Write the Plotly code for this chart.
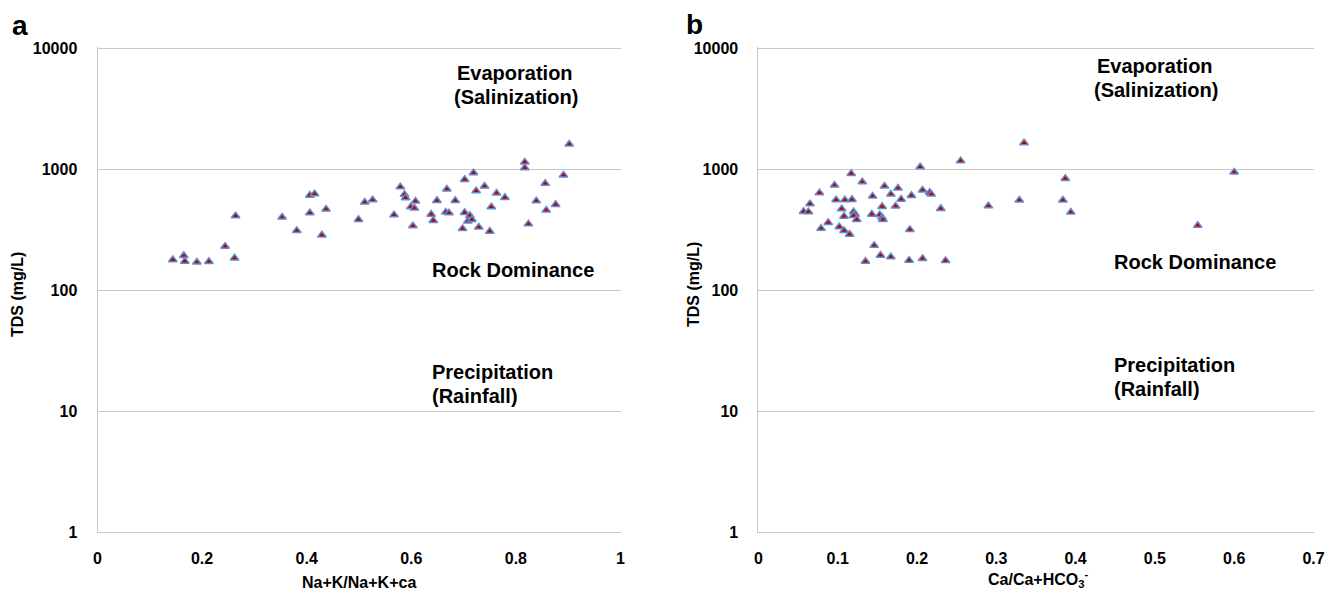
import plotly.graph_objects as go

# Panel a data: Na+K/(Na+K+Ca) vs TDS
a_ratio = [0.144, 0.165, 0.167, 0.190, 0.213, 0.244, 0.262, 0.264, 0.353, 0.381,
           0.406, 0.415, 0.406, 0.437, 0.429, 0.499, 0.511, 0.526, 0.567, 0.579,
           0.587, 0.589, 0.599, 0.606, 0.608, 0.603, 0.638, 0.642, 0.649, 0.668,
           0.666, 0.672, 0.684, 0.702, 0.719, 0.724, 0.740, 0.702, 0.712, 0.708,
           0.716, 0.698, 0.729, 0.750, 0.753, 0.763, 0.779, 0.817, 0.817, 0.824,
           0.839, 0.856, 0.858, 0.876, 0.891, 0.902]
a_tds = [179, 194, 174, 171, 173, 231, 185, 413, 403, 312,
         612, 628, 437, 469, 287, 385, 536, 560, 421, 717,
         621, 582, 490, 478, 546, 341, 426, 378, 553, 687,
         443, 437, 553, 826, 937, 665, 727, 440, 416, 373,
         385, 324, 333, 308, 490, 636, 586, 1150, 1031, 354,
         549, 766, 460, 513, 897, 1620]

# Panel b data: Ca/(Ca+HCO3) vs TDS
b_ratio = [0.057, 0.063, 0.065, 0.077, 0.079, 0.088, 0.096, 0.098, 0.102, 0.105,
           0.108, 0.108, 0.109, 0.115, 0.117, 0.118, 0.120, 0.122, 0.120, 0.124,
           0.131, 0.144, 0.143, 0.146, 0.135, 0.154, 0.153, 0.156, 0.156, 0.157,
           0.159, 0.167, 0.167, 0.176, 0.180, 0.173, 0.190, 0.191, 0.193, 0.204,
           0.207, 0.207, 0.216, 0.218, 0.230, 0.236, 0.255, 0.290, 0.329, 0.335,
           0.384, 0.387, 0.394, 0.554, 0.600]
b_tds = [449, 446, 519, 640, 325, 364, 741, 560, 335, 472,
         410, 312, 560, 291, 926, 564, 446, 426, 416, 385,
         789, 601, 426, 235, 174, 195, 421, 494, 400, 385,
         727, 624, 189, 700, 567, 497, 177, 318, 609, 1050,
         674, 183, 645, 624, 475, 176, 1178, 499, 557, 1661,
         557, 842, 443, 344, 950]

y_tickvals = [1, 10, 100, 1000, 10000]
y_ticktext = ["1", "10", "100", "1000", "10000"]
a_xticks = [0, 0.2, 0.4, 0.6, 0.8, 1]
a_xtext = ["0", "0.2", "0.4", "0.6", "0.8", "1"]
b_xticks = [0, 0.1, 0.2, 0.3, 0.4, 0.5, 0.6, 0.7]
b_xtext = ["0", "0.1", "0.2", "0.3", "0.4", "0.5", "0.6", "0.7"]

# page body has an 8px margin, so the figure is drawn 8px in from the top-left
OFF = 8
W, H = 1339 - OFF, 593 - OFF
FONT = "Liberation Sans, Arial, sans-serif"
GRID = "#c8c8c8"

def px(x):
    return (x - OFF) / W

def py(y):
    return 1 - (y - OFF) / H

marker = dict(symbol="triangle-up", size=7.5, color="#c00000",
              line=dict(color="#5b8fd0", width=1.5))

fig = go.Figure()
fig.add_trace(go.Scatter(x=a_ratio, y=a_tds, mode="markers", marker=marker,
                         xaxis="x", yaxis="y", showlegend=False))
fig.add_trace(go.Scatter(x=b_ratio, y=b_tds, mode="markers", marker=marker,
                         xaxis="x2", yaxis="y2", showlegend=False))

tickfont = dict(family=FONT, size=16, color="#000000", weight="bold")

common_x = dict(showgrid=False, zeroline=False, showline=True, linecolor=GRID,
                linewidth=1, ticks="", tickfont=tickfont, ticklabelstandoff=12,
                automargin=False)
common_y = dict(type="log", range=[0, 4.012], tickvals=y_tickvals, ticktext=y_ticktext,
                showgrid=True, gridcolor=GRID, gridwidth=1, zeroline=False,
                showline=True, linecolor=GRID, linewidth=1, ticks="",
                tickfont=tickfont, ticklabelstandoff=16, automargin=False)

ybot, ytop = py(532), py(47.2)
fig.update_layout(
    template="none",
    width=W, height=H,
    margin=dict(l=0, r=0, t=0, b=0, pad=0),
    paper_bgcolor="white", plot_bgcolor="white",
    showlegend=False,
    xaxis=dict(domain=[px(97.5), px(620.5)], range=[0, 1], tickvals=a_xticks,
               ticktext=a_xtext, anchor="y", **common_x),
    yaxis=dict(domain=[ybot, ytop], anchor="x", **common_y),
    xaxis2=dict(domain=[px(758.4), px(1313.5)], range=[0, 0.7], tickvals=b_xticks,
                ticktext=b_xtext, anchor="y2", **common_x),
    yaxis2=dict(domain=[ybot, ytop], anchor="x2", **common_y),
)

def ann(text, x, y, size=20, xanchor="left", angle=0):
    fig.add_annotation(text=text, x=px(x), y=py(y), xref="paper", yref="paper",
                       xanchor=xanchor, yanchor="middle", showarrow=False,
                       textangle=angle,
                       font=dict(family=FONT, size=size, color="#000000", weight="bold"))

# panel labels
ann("a", 10, 25, size=28)
ann("b", 684, 24, size=28)

# axis titles
ann("TDS (mg/L)", 17, 295, size=16, xanchor="center", angle=-90)
ann("TDS (mg/L)", 693, 285, size=16, xanchor="center", angle=-90)
ann("Na+K/Na+K+ca", 359, 582, size=16, xanchor="center")
ann("Ca/Ca+HCO<sub>3</sub><sup>-</sup>", 1038, 579, size=16, xanchor="center")

# region labels panel a
ann("Evaporation", 455, 73)
ann("(Salinization)", 452, 97)
ann("Rock Dominance", 430, 270)
ann("Precipitation", 430, 372)
ann("(Rainfall)", 430, 396)

# region labels panel b
ann("Evaporation", 1095, 66)
ann("(Salinization)", 1092, 90)
ann("Rock Dominance", 1112, 262)
ann("Precipitation", 1112, 365)
ann("(Rainfall)", 1112, 389)

fig.write_html("out.html")
